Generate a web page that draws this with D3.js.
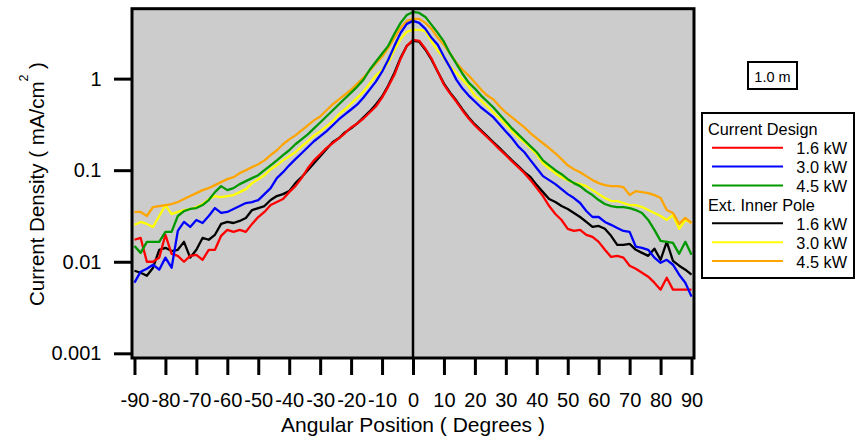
<!DOCTYPE html>
<html>
<head>
<meta charset="utf-8">
<script src="https://cdn.jsdelivr.net/npm/d3@7"></script>
<style>
  html, body { margin: 0; padding: 0; background: #fff; }
  svg { display: block; font-family: "Liberation Sans", Arial, sans-serif; }
</style>
</head>
<body>
<svg id="chart" width="856" height="439"></svg>
<script>
// Angular positions (degrees)
const angles = [-90,-88,-86,-84,-82,-80,-78,-76,-74,-72,-70,-68,-66,-64,-62,-60,-58,-56,-54,-52,-50,-48,-46,-44,-42,-40,-38,-36,-34,-32,-30,-28,-26,-24,-22,-20,-18,-16,-14,-12,-10,-8,-6,-4,-2,0,
  2,4,6,8,10,12,14,16,18,20,22,24,26,28,30,32,34,36,38,40,42,44,46,48,50,52,54,56,58,60,62,64,66,68,70,72,74,76,78,80,82,84,86,88,90];

// Current density (mA/cm^2), current design
const current16 = [0.0174,0.0182,0.0100,0.0100,0.0111,0.0197,0.0122,0.0116,0.0100,0.0116,0.0119,0.0105,0.0135,0.0135,0.0192,0.0223,0.0212,0.0223,0.0212,0.0259,0.0308,0.0350,0.0416,0.0449,0.0484,0.0576,0.0670,0.0819,0.105,0.128,0.149,0.174,0.197,0.223,0.253,0.293,0.324,0.367,0.427,0.496,0.621,0.819,1.10,1.65,2.28,2.65,
  2.59,2.12,1.65,1.19,0.861,0.687,0.562,0.449,0.367,0.308,0.265,0.229,0.197,0.169,0.146,0.125,0.108,0.0928,0.0779,0.0637,0.0522,0.0406,0.0332,0.0286,0.0229,0.0217,0.0223,0.0197,0.0187,0.0165,0.0135,0.0113,0.0116,0.0111,0.00905,0.00839,0.00759,0.00687,0.00591,0.00496,0.00670,0.00496,0.00496,0.00496,0.00496];
const current30 = [0.00591,0.00779,0.00839,0.00928,0.00819,0.0111,0.00861,0.0217,0.0272,0.0240,0.0286,0.0265,0.0316,0.0386,0.0341,0.0350,0.0377,0.0406,0.0438,0.0449,0.0472,0.0548,0.0637,0.0819,0.0951,0.113,0.132,0.153,0.178,0.207,0.234,0.265,0.308,0.358,0.406,0.460,0.522,0.621,0.759,0.928,1.19,1.61,2.28,3.16,3.96,4.27,
  4.06,3.49,2.79,2.34,1.73,1.32,0.975,0.779,0.653,0.562,0.484,0.427,0.377,0.316,0.265,0.223,0.182,0.157,0.128,0.105,0.0861,0.0779,0.0704,0.0621,0.0548,0.0496,0.0438,0.0358,0.0308,0.0308,0.0272,0.0253,0.0234,0.0217,0.0212,0.0146,0.0142,0.0135,0.0111,0.00975,0.0105,0.00928,0.00722,0.00591,0.00416];
const current45 = [0.0149,0.0125,0.0165,0.0165,0.0165,0.0212,0.0212,0.0316,0.0358,0.0377,0.0386,0.0416,0.0472,0.0576,0.0670,0.0606,0.0637,0.0704,0.0759,0.0819,0.0882,0.100,0.113,0.128,0.146,0.165,0.192,0.217,0.246,0.286,0.332,0.386,0.449,0.522,0.606,0.704,0.819,0.975,1.25,1.53,1.87,2.28,3.09,4.06,4.96,5.35,
  5.21,4.72,3.86,3.16,2.53,1.87,1.46,1.13,0.905,0.779,0.653,0.562,0.484,0.406,0.341,0.286,0.246,0.212,0.182,0.157,0.128,0.113,0.100,0.0905,0.0798,0.0722,0.0670,0.0591,0.0535,0.0472,0.0427,0.0406,0.0396,0.0396,0.0386,0.0367,0.0341,0.0286,0.0223,0.0169,0.0165,0.0161,0.0122,0.0165,0.0119];

// Current density (mA/cm^2), extended inner pole
const extPole16 = [0.00798,0.00759,0.00704,0.00861,0.0135,0.0142,0.0131,0.0135,0.0165,0.0111,0.0135,0.0182,0.0174,0.0197,0.0259,0.0272,0.0265,0.0279,0.0301,0.0367,0.0386,0.0406,0.0472,0.0522,0.0548,0.0591,0.0722,0.0839,0.100,0.119,0.142,0.169,0.202,0.223,0.259,0.286,0.324,0.377,0.438,0.522,0.637,0.839,1.16,1.69,2.28,2.59,
  2.53,2.07,1.61,1.19,0.882,0.704,0.576,0.460,0.377,0.316,0.272,0.234,0.202,0.174,0.149,0.128,0.111,0.0951,0.0839,0.0687,0.0576,0.0484,0.0449,0.0406,0.0377,0.0341,0.0308,0.0272,0.0240,0.0246,0.0229,0.0192,0.0153,0.0153,0.0157,0.0135,0.0125,0.0116,0.0139,0.0105,0.0165,0.01025,0.00905,0.00819,0.00722];
const extPole30 = [0.0253,0.0272,0.0259,0.0240,0.0316,0.0416,0.0332,0.0350,0.0367,0.0377,0.0396,0.0427,0.0484,0.0522,0.0509,0.0522,0.0535,0.0576,0.0621,0.0722,0.0798,0.0882,0.1025,0.113,0.128,0.142,0.157,0.182,0.207,0.240,0.265,0.301,0.341,0.406,0.460,0.535,0.621,0.722,0.882,1.08,1.25,1.49,2.07,2.72,3.25,3.41,
  3.41,3.32,2.53,2.02,1.69,1.35,1.16,0.975,0.819,0.653,0.576,0.496,0.427,0.367,0.316,0.265,0.229,0.202,0.174,0.149,0.119,0.105,0.0928,0.0839,0.0779,0.0722,0.0704,0.0670,0.0606,0.0548,0.0496,0.0460,0.0460,0.0438,0.0416,0.0416,0.0396,0.0367,0.0341,0.0316,0.0286,0.0324,0.0229,0.0286,0.0265];
const extPole45 = [0.0350,0.0350,0.0316,0.0396,0.0406,0.0416,0.0427,0.0449,0.0484,0.0522,0.0562,0.0606,0.0637,0.0687,0.0741,0.0798,0.0839,0.0928,0.100,0.108,0.116,0.128,0.146,0.165,0.192,0.217,0.240,0.272,0.308,0.350,0.386,0.449,0.522,0.591,0.670,0.759,0.882,1.03,1.22,1.46,1.73,2.17,2.79,3.58,4.27,4.49,
  4.49,4.06,3.49,2.79,2.34,1.87,1.49,1.25,1.08,0.905,0.759,0.653,0.591,0.496,0.427,0.377,0.332,0.293,0.253,0.223,0.197,0.174,0.153,0.132,0.113,0.1025,0.0951,0.0861,0.0779,0.0722,0.0687,0.0670,0.0670,0.0653,0.0535,0.0591,0.0576,0.0562,0.0535,0.0496,0.0367,0.0341,0.0259,0.0301,0.0265];

// Axis ticks
const xTicks = [-90,-80,-70,-60,-50,-40,-30,-20,-10,0,10,20,30,40,50,60,70,80,90];
const yTicks = [1, 0.1, 0.01, 0.001];
const yTickLabels = ["1", "0.1", "0.01", "0.001"];

// Legend groups and labels
const groupTitles = ["Current Design", "Ext. Inner Pole"];
const powerLabels = ["1.6 kW", "3.0 kW", "4.5 kW"];
const scaleLabel = "1.0 m";

const seriesColors = {
  current16: "#ff0000", current30: "#0000ff", current45: "#009900",
  extPole16: "#000000", extPole30: "#ffff00", extPole45: "#ffa500"
};

const svg = d3.select("#chart");
const plot = { left: 132, right: 694, top: 8.7, bottom: 358 };

const x = d3.scaleLinear().domain([-90.8, 90.8]).range([plot.left, plot.right]);
const y = d3.scaleLog().domain([0.000889, 5.803]).range([plot.bottom, plot.top]);

// plot background
svg.append("rect")
  .attr("x", plot.left).attr("y", plot.top)
  .attr("width", plot.right - plot.left).attr("height", plot.bottom - plot.top)
  .attr("fill", "#cccccc");

svg.append("clipPath").attr("id", "plotClip")
  .append("rect")
  .attr("x", plot.left).attr("y", plot.top)
  .attr("width", plot.right - plot.left).attr("height", plot.bottom - plot.top);

const series = [
  { key: "extPole16", values: extPole16 },
  { key: "extPole30", values: extPole30 },
  { key: "extPole45", values: extPole45 },
  { key: "current16", values: current16 },
  { key: "current30", values: current30 },
  { key: "current45", values: current45 }
];

const line = d3.line()
  .x((d, i) => x(angles[i]))
  .y(d => y(d));

const curves = svg.append("g").attr("clip-path", "url(#plotClip)");
curves.selectAll("path")
  .data(series)
  .join("path")
  .attr("d", s => line(s.values))
  .attr("fill", "none")
  .attr("stroke", s => seriesColors[s.key])
  .attr("stroke-width", 2.3)
  .attr("stroke-linejoin", "round");

// zero-angle reference line
svg.append("line")
  .attr("x1", x(0)).attr("x2", x(0))
  .attr("y1", plot.top).attr("y2", plot.bottom)
  .attr("stroke", "#000").attr("stroke-width", 2.5);

// frame
svg.append("rect")
  .attr("x", plot.left).attr("y", plot.top)
  .attr("width", plot.right - plot.left).attr("height", plot.bottom - plot.top)
  .attr("fill", "none").attr("stroke", "#000").attr("stroke-width", 3);

// x axis
const xAxis = d3.axisBottom(x)
  .tickValues(xTicks)
  .tickSize(17)
  .tickPadding(18)
  .tickFormat(d3.format("d"));
const gx = svg.append("g")
  .attr("transform", `translate(0,${plot.bottom})`)
  .call(xAxis);
gx.select(".domain").remove();
gx.selectAll(".tick line").attr("stroke", "#000").attr("stroke-width", 3);
gx.selectAll(".tick text")
  .attr("fill", "#000")
  .style("font-size", "20px")
  .style("font-family", "'Liberation Sans', Arial, sans-serif")
  .text(d => d < 0 ? "-" + Math.abs(d) : String(d));

// y axis
const yAxis = d3.axisLeft(y)
  .tickValues(yTicks)
  .tickSize(18)
  .tickPadding(12.5)
  .tickFormat((d, i) => yTickLabels[i]);
const gy = svg.append("g")
  .attr("transform", `translate(${plot.left},0)`)
  .call(yAxis);
gy.select(".domain").remove();
gy.selectAll(".tick line").attr("stroke", "#000").attr("stroke-width", 3);
gy.selectAll(".tick text")
  .attr("fill", "#000")
  .style("font-size", "20px")
  .style("font-family", "'Liberation Sans', Arial, sans-serif");

// axis titles
svg.append("text")
  .attr("x", x(0)).attr("y", 431.7)
  .attr("text-anchor", "middle")
  .style("font-size", "21px")
  .text("Angular Position ( Degrees )");

const yTitle = svg.append("text")
  .attr("transform", "translate(43.5,184) rotate(-90)")
  .attr("text-anchor", "middle")
  .style("font-size", "20.5px");
yTitle.append("tspan").text("Current Density ( mA/cm");
yTitle.append("tspan").attr("dy", -16).style("font-size", "12.5px").text("2");
yTitle.append("tspan").attr("dy", 16).text(" )");

// scale tag
svg.append("rect")
  .attr("x", 748).attr("y", 62).attr("width", 49).attr("height", 27)
  .attr("fill", "#fff").attr("stroke", "#000").attr("stroke-width", 2);
svg.append("text")
  .attr("x", 772.5).attr("y", 81.5)
  .attr("text-anchor", "middle")
  .style("font-size", "14.5px")
  .text(scaleLabel);

// legend
const legend = svg.append("g");
legend.append("rect")
  .attr("x", 702).attr("y", 113).attr("width", 152).attr("height", 165)
  .attr("fill", "#fff").attr("stroke", "#000").attr("stroke-width", 2);

const groups = [
  { title: groupTitles[0], keys: ["current16", "current30", "current45"] },
  { title: groupTitles[1], keys: ["extPole16", "extPole30", "extPole45"] }
];
const rowH = 18.9;
let baseY = 135.3;
groups.forEach(g => {
  legend.append("text")
    .attr("x", 708).attr("y", baseY)
    .style("font-size", "16.3px")
    .text(g.title);
  baseY += rowH;
  g.keys.forEach((k, i) => {
    legend.append("line")
      .attr("x1", 712).attr("x2", 783)
      .attr("y1", baseY - 6.5).attr("y2", baseY - 6.5)
      .attr("stroke", seriesColors[k]).attr("stroke-width", 2);
    legend.append("text")
      .attr("x", 847).attr("y", baseY)
      .attr("text-anchor", "end")
      .style("font-size", "16.3px")
      .text(powerLabels[i]);
    baseY += rowH;
  });
});
</script>
</body>
</html>
